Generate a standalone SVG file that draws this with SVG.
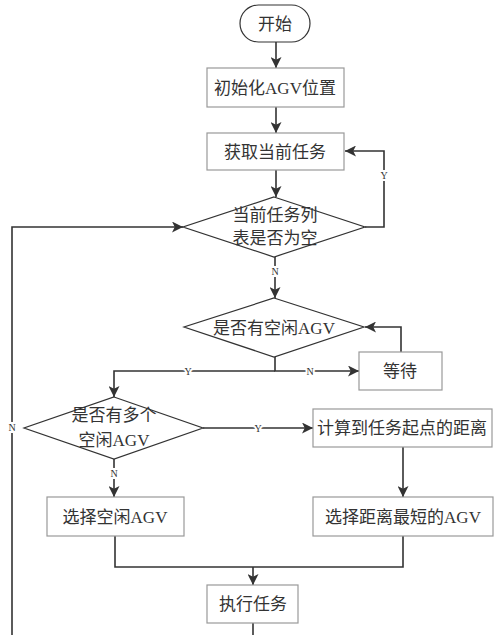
<svg xmlns="http://www.w3.org/2000/svg" width="500" height="635" viewBox="0 0 500 635">
<defs>
<marker id="ah" viewBox="0 0 10 10" refX="10" refY="5" markerWidth="11" markerHeight="11" markerUnits="userSpaceOnUse" orient="auto">
<path d="M0,0 L10,5 L0,10 L2.5,5 Z" fill="#333"/>
</marker>
<style>
.box{fill:#fff;stroke:#999;stroke-width:1.2}
.ln{fill:none;stroke:#333;stroke-width:1.6}
.t{font-family:"Liberation Serif","Noto Sans CJK SC",serif;font-size:17px;fill:#333;text-anchor:middle;dominant-baseline:central}
.lb{font-family:"Liberation Serif",serif;font-size:10px;fill:#333;text-anchor:middle;dominant-baseline:central;stroke:#fff;stroke-width:4;paint-order:stroke}
</style>
</defs>
<rect width="500" height="635" fill="#fff"/>
<g id="connectors">
<path class="ln" d="M276,42 V68" marker-end="url(#ah)"/>
<path class="ln" d="M276,107 V133" marker-end="url(#ah)"/>
<path class="ln" d="M276,170 V197" marker-end="url(#ah)"/>
<path class="ln" d="M365,227 H384 V151 H345" marker-end="url(#ah)"/>
<path class="ln" d="M275,257 V298" marker-end="url(#ah)"/>
<path class="ln" d="M275,357 V371 H359" marker-end="url(#ah)"/>
<path class="ln" d="M275,371 H114 V397" marker-end="url(#ah)"/>
<path class="ln" d="M401,352 V327 H365" marker-end="url(#ah)"/>
<path class="ln" d="M203,428 H313" marker-end="url(#ah)"/>
<path class="ln" d="M403,447 V497" marker-end="url(#ah)"/>
<path class="ln" d="M114,459 V497" marker-end="url(#ah)"/>
<path class="ln" d="M115,536 V567 H403 V536"/>
<path class="ln" d="M253,567 V585" marker-end="url(#ah)"/>
<path class="ln" d="M253,623 V635"/>
<path class="ln" d="M12,635 V227 H183" marker-end="url(#ah)"/>
<text class="lb" x="384" y="175">Y</text>
<text class="lb" x="275" y="271">N</text>
<text class="lb" x="188" y="371">Y</text>
<text class="lb" x="310" y="371">N</text>
<text class="lb" x="258" y="428">Y</text>
<text class="lb" x="114" y="473">N</text>
<text class="lb" x="12" y="427">N</text>
</g>
<g id="start">
<rect class="box" x="240" y="5" width="70" height="37" rx="18.5" ry="18.5" style="stroke:#333"/>
<text class="t" x="275" y="24">开始</text>
</g>
<g id="init">
<rect class="box" x="207" y="68" width="137" height="39"/>
<text class="t" x="275" y="88">初始化AGV位置</text>
</g>
<g id="get-task">
<rect class="box" x="207" y="133" width="137" height="37"/>
<text class="t" x="275" y="152">获取当前任务</text>
</g>
<g id="list-empty">
<polygon class="box" points="274,197 365,227 274,257 183,227" style="stroke:#333"/>
<text class="t" x="275" y="215">当前任务列</text>
<text class="t" x="275" y="238">表是否为空</text>
</g>
<g id="idle-agv">
<polygon class="box" points="274,298 364,327 274,357 184,327" style="stroke:#333"/>
<text class="t" x="274" y="328">是否有空闲AGV</text>
</g>
<g id="wait">
<rect class="box" x="359" y="352" width="83" height="38"/>
<text class="t" x="400" y="371">等待</text>
</g>
<g id="multi-idle">
<polygon class="box" points="114,397 203,428 114,459 24,428" style="stroke:#333"/>
<text class="t" x="114" y="415">是否有多个</text>
<text class="t" x="114" y="440">空闲AGV</text>
</g>
<g id="calc-distance">
<rect class="box" x="313" y="409" width="179" height="38"/>
<text class="t" x="402" y="428">计算到任务起点的距离</text>
</g>
<g id="select-idle">
<rect class="box" x="47" y="497" width="137" height="39"/>
<text class="t" x="115" y="517">选择空闲AGV</text>
</g>
<g id="select-shortest">
<rect class="box" x="313" y="497" width="180" height="39"/>
<text class="t" x="403" y="517">选择距离最短的AGV</text>
</g>
<g id="execute">
<rect class="box" x="207" y="585" width="91" height="38"/>
<text class="t" x="253" y="604">执行任务</text>
</g>
</svg>
